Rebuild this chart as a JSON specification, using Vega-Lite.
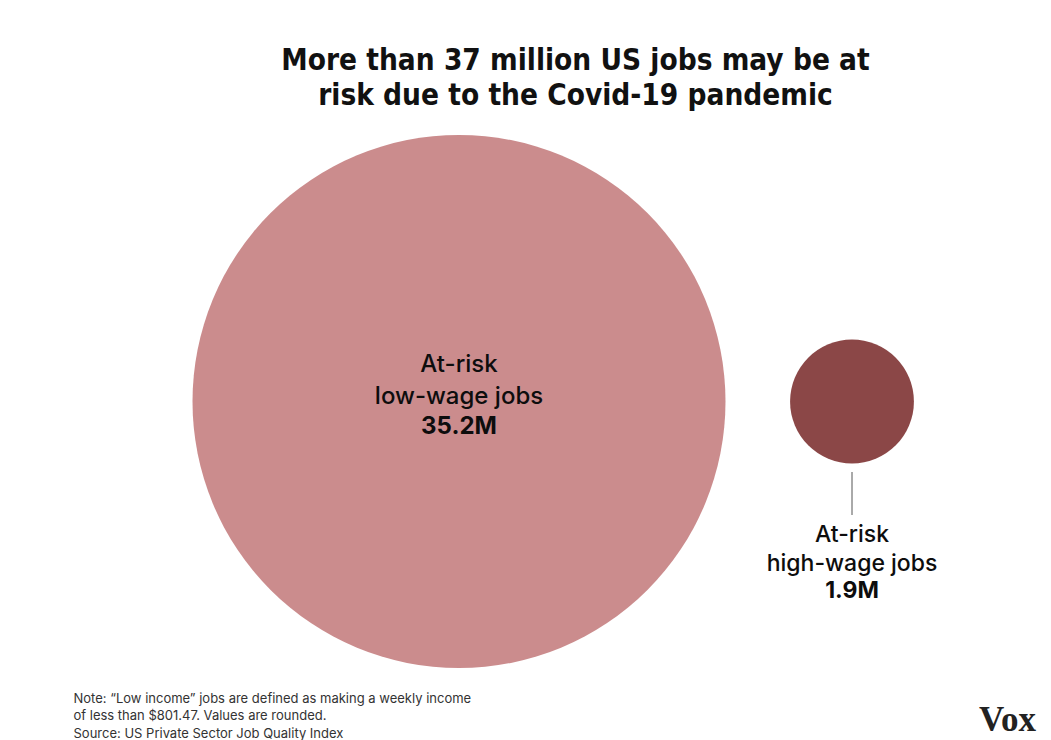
{
  "$schema": "https://vega.github.io/schema/vega-lite/v6.json",
  "width": 1051,
  "height": 533,
  "autosize": {"type": "none"},
  "padding": {"top": 135, "bottom": 72, "left": 0, "right": 0},
  "background": "white",
  "config": {"view": {"stroke": null}},
  "title": {
    "text": ["More than 37 million US jobs may be at", "risk due to the Covid-19 pandemic"],
    "anchor": "middle",
    "frame": "group",
    "dx": 50,
    "offset": 24,
    "fontSize": 29.5,
    "font": "Liberation Sans Narrow, DejaVu Sans Condensed, Roboto Condensed, Liberation Sans",
    "fontWeight": "bold",
    "color": "#111111",
    "lineHeight": 35
  },
  "data": {
    "values": [
      {"category": "low", "line1": "At-risk", "line2": "low-wage jobs", "jobs_millions": 35.2, "label": "35.2M"},
      {"category": "high", "line1": "At-risk", "line2": "high-wage jobs", "jobs_millions": 1.9, "label": "1.9M"}
    ]
  },
  "encoding": {
    "x": {
      "field": "category",
      "type": "nominal",
      "scale": {"type": "point", "domain": ["low", "high"], "range": [459, 852], "padding": 0},
      "axis": {
        "orient": "bottom",
        "labels": false,
        "ticks": false,
        "domain": false,
        "grid": false,
        "title": ["Note: “Low income” jobs are defined as making a weekly income", "of less than $801.47. Values are rounded.", "Source: US Private Sector Job Quality Index"],
        "titleAnchor": "start",
        "titleAlign": "left",
        "titleX": 73,
        "titleY": 34,
        "titleBaseline": "alphabetic",
        "titleFont": "Inter",
        "titleFontSize": 13,
        "titleFontWeight": "normal",
        "titleColor": "#333333",
        "titleLineHeight": 17.5
      }
    }
  },
  "layer": [
    {
      "mark": {"type": "circle", "opacity": 1},
      "encoding": {
        "y": {
          "datum": 0,
          "type": "quantitative",
          "scale": {"domain": [-1, 1]},
          "axis": {
            "orient": "right",
            "labels": false,
            "ticks": false,
            "domain": false,
            "grid": false,
            "title": "Vox",
            "titleAngle": 0,
            "titleX": -44,
            "titleY": 595,
            "titleAlign": "center",
            "titleBaseline": "alphabetic",
            "titleFont": "Liberation Serif",
            "titleFontSize": 35,
            "titleFontWeight": "bold",
            "titleColor": "#222222"
          }
        },
        "size": {"field": "jobs_millions", "type": "quantitative", "scale": {"domain": [0, 35.2], "range": [0, 284089]}, "legend": null},
        "color": {"field": "category", "type": "nominal", "scale": {"domain": ["low", "high"], "range": ["#cb8c8d", "#8b4747"]}, "legend": null}
      }
    },
    {
      "transform": [{"filter": "datum.category === 'high'"}],
      "mark": {"type": "rule", "y": 337, "y2": 380, "color": "#555555", "strokeWidth": 1},
      "encoding": {}
    },
    {
      "transform": [{"filter": "datum.category === 'low'"}],
      "mark": {"type": "text", "font": "Inter", "fontSize": 24, "fontWeight": 500, "dy": -29.5, "baseline": "alphabetic", "color": "#0d0d0d"},
      "encoding": {"text": {"field": "line1"}, "y": {"datum": 0, "type": "quantitative"}}
    },
    {
      "transform": [{"filter": "datum.category === 'low'"}],
      "mark": {"type": "text", "font": "Inter", "fontSize": 24, "fontWeight": 500, "dy": 2.5, "baseline": "alphabetic", "color": "#0d0d0d"},
      "encoding": {"text": {"field": "line2"}, "y": {"datum": 0, "type": "quantitative"}}
    },
    {
      "transform": [{"filter": "datum.category === 'low'"}],
      "mark": {"type": "text", "font": "Inter", "fontSize": 24, "fontWeight": "bold", "dy": 32.5, "baseline": "alphabetic", "color": "#0d0d0d"},
      "encoding": {"text": {"field": "label"}, "y": {"datum": 0, "type": "quantitative"}}
    },
    {
      "transform": [{"filter": "datum.category === 'high'"}],
      "mark": {"type": "text", "font": "Inter", "fontSize": 23, "fontWeight": 500, "dy": 140.5, "baseline": "alphabetic", "color": "#0d0d0d"},
      "encoding": {"text": {"field": "line1"}, "y": {"datum": 0, "type": "quantitative"}}
    },
    {
      "transform": [{"filter": "datum.category === 'high'"}],
      "mark": {"type": "text", "font": "Inter", "fontSize": 23, "fontWeight": 500, "dy": 169.5, "baseline": "alphabetic", "color": "#0d0d0d"},
      "encoding": {"text": {"field": "line2"}, "y": {"datum": 0, "type": "quantitative"}}
    },
    {
      "transform": [{"filter": "datum.category === 'high'"}],
      "mark": {"type": "text", "font": "Inter", "fontSize": 23, "fontWeight": "bold", "dy": 196.5, "baseline": "alphabetic", "color": "#0d0d0d"},
      "encoding": {"text": {"field": "label"}, "y": {"datum": 0, "type": "quantitative"}}
    }
  ]
}
